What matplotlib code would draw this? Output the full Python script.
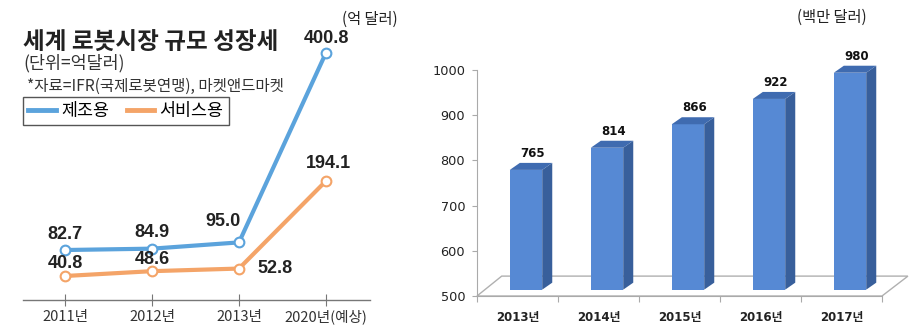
import matplotlib
matplotlib.use("Agg")
import matplotlib.pyplot as plt
from matplotlib.patches import Polygon

plt.rcParams['font.family'] = ['Noto Sans CJK KR', 'DejaVu Sans']

# =========================
# data
# =========================
line_years = ["2011년", "2012년", "2013년", "2020년(예상)"]
manufacturing = [82.7, 84.9, 95.0, 400.8]
service = [40.8, 48.6, 52.8, 194.1]

bar_years = ["2013년", "2014년", "2015년", "2016년", "2017년"]
bar_values = [765, 814, 866, 922, 980]
bar_ticks = [500, 600, 700, 800, 900, 1000]

W, H = 916, 332


def fx(px):
    return px / W


def fy(py):
    return 1 - py / H


fig = plt.figure(figsize=(W / 100, H / 100), dpi=100)
fig.patch.set_facecolor("white")

# =========================
# left: line chart
# =========================
BLUE = "#5BA3DC"
ORANGE = "#F4A468"

ax1 = fig.add_axes([fx(23), (H - 300) / H, fx(370) - fx(23), 260 / H])
xs = list(range(len(line_years)))
l1, = ax1.plot(xs, manufacturing, color=BLUE, lw=3, marker="o", ms=7,
               mfc="white", mec=BLUE, mew=1.5, label="제조용", zorder=3)
l2, = ax1.plot(xs, service, color=ORANGE, lw=3, marker="o", ms=7,
               mfc="white", mec=ORANGE, mew=1.5, label="서비스용", zorder=3)
ax1.set_xlim(-0.483, 3.506)
ax1.set_ylim(2.1, 421.4)

# label offsets in pixels (dx, dy up), text centred
blue_off = [(0, 16), (0, 16), (-16, 21), (0, 14)]
orange_off = [(0, 13), (0, 11.5), (36, 0), (2, 17)]
num_font = dict(fontsize=13, fontweight="bold", color="#222222",
                family=["Liberation Sans", "DejaVu Sans"])
for i, v in enumerate(manufacturing):
    ax1.annotate(f"{v:.1f}", (i, v), xytext=(blue_off[i][0] * 0.72, blue_off[i][1] * 0.72),
                 textcoords="offset points", ha="center", va="center", zorder=4, **num_font)
for i, v in enumerate(service):
    ax1.annotate(f"{v:.1f}", (i, v), xytext=(orange_off[i][0] * 0.72, orange_off[i][1] * 0.72),
                 textcoords="offset points", ha="center", va="center", zorder=4, **num_font)

for s in ["top", "right", "left"]:
    ax1.spines[s].set_visible(False)
ax1.spines["bottom"].set_color("#777777")
ax1.spines["bottom"].set_linewidth(1.0)
ax1.set_yticks([])
ax1.set_xticks(xs)
ax1.set_xticklabels(line_years, fontsize=10.5, color="#333333")
ax1.tick_params(axis="x", direction="inout", length=8, color="#777777", pad=3)

fig.text(fx(23), fy(42), "세계 로봇시장 규모 성장세", fontsize=17, fontweight="bold",
         color="#222222", ha="left", va="center")
fig.text(fx(23), fy(63), "(단위=억달러)", fontsize=12.5, color="#333333",
         ha="left", va="center")
fig.text(fx(27), fy(86), "*자료=IFR(국제로봇연맹), 마켓앤드마켓", fontsize=11.2,
         color="#333333", ha="left", va="center")

fig.legend(handles=[l1, l2], labels=["제조용", "서비스용"], loc="upper left",
           bbox_to_anchor=(fx(23), fy(97)), borderaxespad=0, ncol=2,
           fancybox=False, edgecolor="#555555", fontsize=12.5, handlelength=1.6,
           handletextpad=0.3, columnspacing=1.0, borderpad=0.3, framealpha=1)
for h in fig.legends[0].legend_handles:
    h.set_marker("")
    h.set_linewidth(3.5)

fig.text(fx(370), fy(19), "(억 달러)", fontsize=11, color="#222222",
         ha="center", va="center")

# =========================
# right: pseudo-3D bar chart
# =========================
FRONT = "#5689D4"
SIDE = "#385F9B"
TOP = "#3F6BB0"

ax2 = fig.add_axes([fx(477), (H - 296) / H, fx(882) - fx(477), 256 / H])
ax2.set_xlim(-0.5, 4.5)
ax2.set_ylim(500, 1066.4)

# floor
floor = Polygon([(-0.5, 500), (-0.195, 544), (4.82, 544), (4.5, 500)],
                closed=True, facecolor="white", edgecolor="#B0B0B0", lw=1.0,
                clip_on=False, zorder=1)
ax2.add_patch(floor)

shift_x, shift_y = 0.105, 14
depth_x, depth_y = 0.124, 15.5
bw = 0.40
bx = [i + shift_x for i in range(len(bar_values))]
base = 500 + shift_y
ax2.bar(bx, [v + shift_y - base for v in bar_values], bottom=base, width=bw,
        color=FRONT, edgecolor="none", zorder=3)
for x, v in zip(bx, bar_values):
    top = v + shift_y
    xl, xr = x - bw / 2, x + bw / 2
    ax2.add_patch(Polygon([(xr, base), (xr + depth_x, base + depth_y),
                           (xr + depth_x, top + depth_y), (xr, top)],
                          closed=True, facecolor=SIDE, edgecolor="none", zorder=3))
    ax2.add_patch(Polygon([(xl, top), (xl + depth_x, top + depth_y),
                           (xr + depth_x, top + depth_y), (xr, top)],
                          closed=True, facecolor=TOP, edgecolor="none", zorder=3))
    ax2.text(x - shift_x + 0.19, v + 50, str(v), ha="center", va="center",
             fontsize=8.5, fontweight="bold", color="#111111",
             family=["DejaVu Sans", "Noto Sans CJK KR"])

for s in ["top", "right"]:
    ax2.spines[s].set_visible(False)
ax2.spines["left"].set_color("#AAAAAA")
ax2.spines["left"].set_bounds(500, 1000)
ax2.spines["bottom"].set_color("#AAAAAA")
ax2.set_yticks(bar_ticks)
ax2.set_yticklabels([str(t) for t in bar_ticks], fontsize=9.3, color="#222222",
                    family=["DejaVu Sans"])
ax2.tick_params(axis="y", length=3.5, color="#AAAAAA", pad=5)

ax2.set_xticks([i - 0.5 for i in range(len(bar_years) + 1)])
ax2.set_xticklabels([])
ax2.set_xticks(range(len(bar_years)), minor=True)
ax2.set_xticklabels(bar_years, minor=True, fontsize=8.5, fontweight="bold",
                    color="#222222", family=["DejaVu Sans", "Noto Sans CJK KR"])
ax2.tick_params(axis="x", which="major", length=4, color="#AAAAAA")
ax2.tick_params(axis="x", which="minor", length=0, pad=11)

fig.text(fx(832), fy(17), "(백만 달러)", fontsize=11, color="#222222",
         ha="center", va="center")

fig.savefig("out.png", dpi=100)
